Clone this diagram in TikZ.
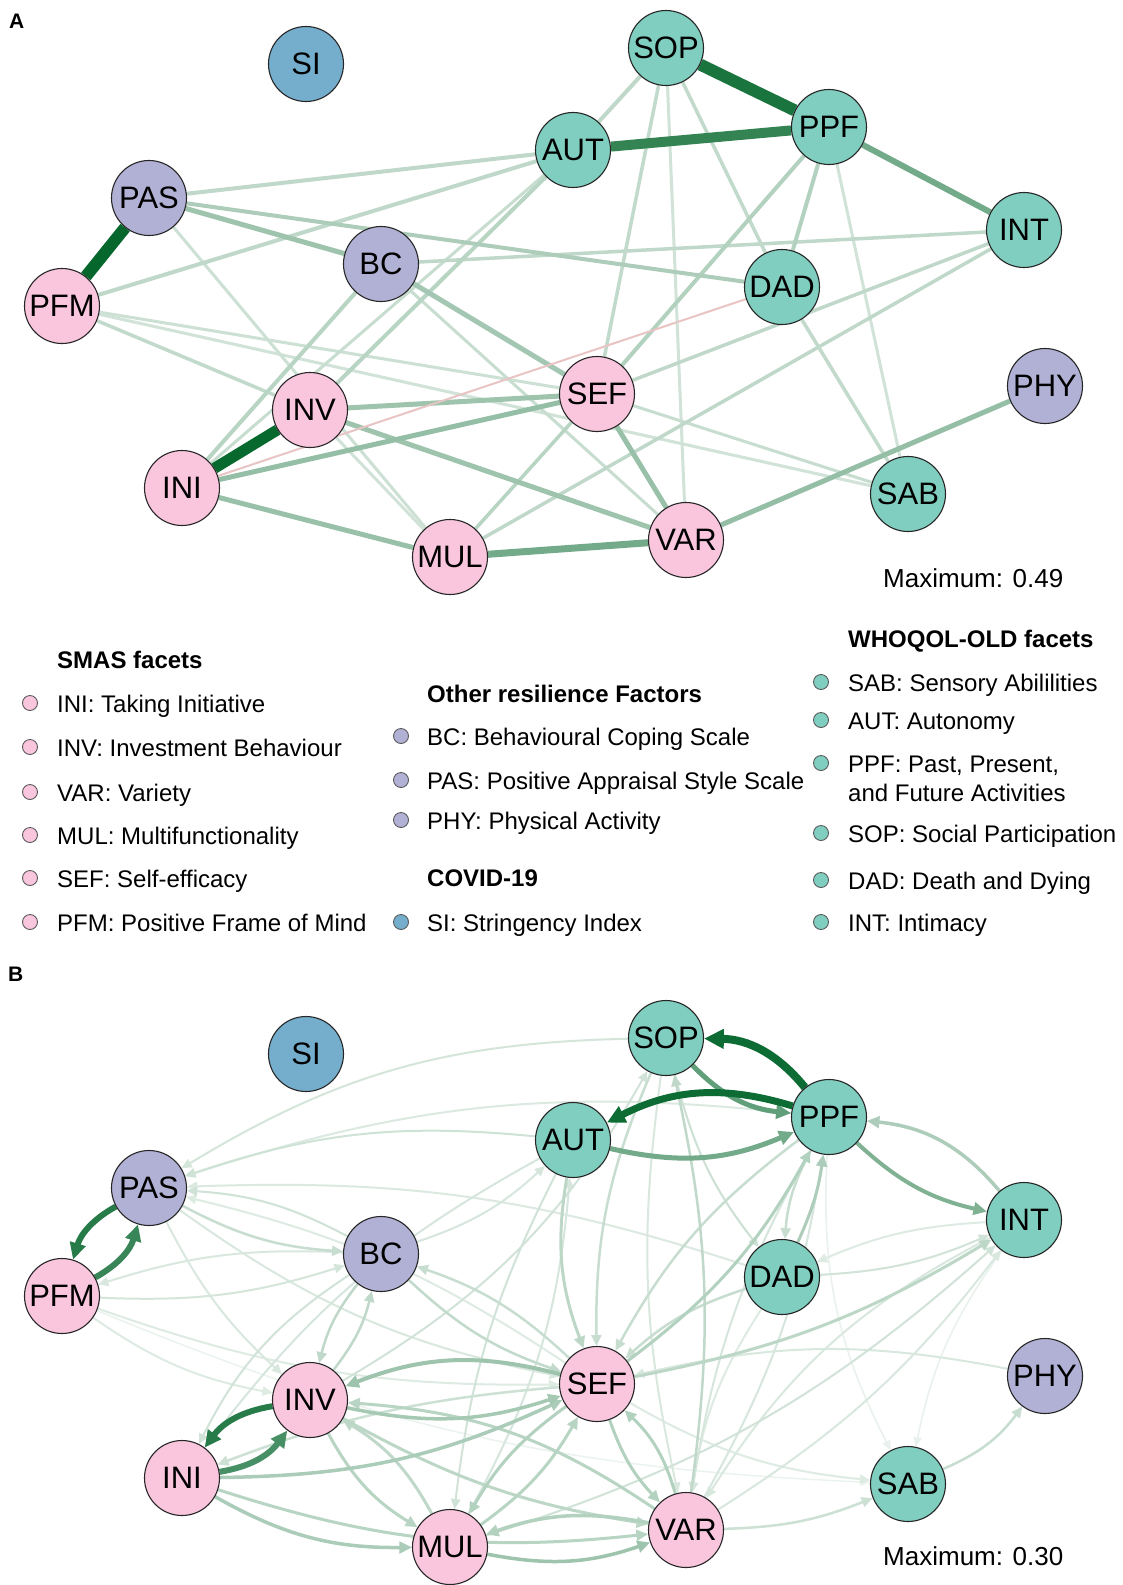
\documentclass[tikz,border=0pt]{standalone}
\usepackage{fontspec}
\setmainfont{Liberation Sans}
\usetikzlibrary{arrows.meta,backgrounds}
\definecolor{eg}{RGB}{0,100,40}
\definecolor{pinkF}{RGB}{249,198,222}
\definecolor{tealF}{RGB}{128,206,192}
\definecolor{lavF}{RGB}{177,177,214}
\definecolor{blueF}{RGB}{117,174,205}
\definecolor{negE}{RGB}{232,196,196}
\newcommand\mynodes[1]{%
\node[nd,fill=blueF] (SI#1) at (306,-64) {SI};
\node[nd,fill=tealF] (SOP#1) at (666,-48) {SOP};
\node[nd,fill=tealF] (PPF#1) at (829,-127) {PPF};
\node[nd,fill=tealF] (AUT#1) at (573,-150) {AUT};
\node[nd,fill=lavF] (PAS#1) at (149,-198) {PAS};
\node[nd,fill=tealF] (INT#1) at (1024,-230) {INT};
\node[nd,fill=lavF] (BC#1) at (381,-264) {BC};
\node[nd,fill=tealF] (DAD#1) at (782,-287) {DAD};
\node[nd,fill=pinkF] (PFM#1) at (62,-306) {PFM};
\node[nd,fill=lavF] (PHY#1) at (1045,-386) {PHY};
\node[nd,fill=pinkF] (SEF#1) at (597,-394) {SEF};
\node[nd,fill=pinkF] (INV#1) at (310,-410) {INV};
\node[nd,fill=pinkF] (INI#1) at (182,-488) {INI};
\node[nd,fill=tealF] (SAB#1) at (908,-494) {SAB};
\node[nd,fill=pinkF] (MUL#1) at (450,-557) {MUL};
\node[nd,fill=pinkF] (VAR#1) at (686,-540) {VAR};
}
\begin{document}
\begin{tikzpicture}[x=1pt,y=1pt,
 nd/.style={circle,draw=black!85,line width=1.1pt,minimum size=75pt,inner sep=0pt,font=\fontsize{31}{31}\selectfont},
 lg/.style={circle,draw=black!65,line width=0.9pt,minimum size=15pt,inner sep=0pt},
 lt/.style={anchor=base west,inner sep=0pt,font=\fontsize{24}{24}\selectfont},
 lh/.style={anchor=base west,inner sep=0pt,font=\fontsize{24}{24}\selectfont\bfseries},
 pl/.style={anchor=base west,inner sep=0pt,font=\fontsize{21}{21}\selectfont\bfseries},
 mx/.style={anchor=base west,inner sep=0pt,font=\fontsize{26}{26}\selectfont},
 arr/.style={-{Triangle[length=7pt 1.6,width=6pt 1.6]}},
]
\useasboundingbox (0,0) rectangle (1122,-1585);

% ---------- Panel A nodes ----------
\mynodes{}
% ---------- Panel B nodes ----------
\begin{scope}[yshift=-990pt]
\mynodes{b}
\end{scope}

% ---------- labels ----------
\node[pl] (lblA) at (9,-28) {A};
\node[pl] (lblB) at (8,-981) {B};
\node[mx] (maxA) at (883,-587) {Maximum: 0.49};
\node[mx] (maxB) at (883,-1565) {Maximum: 0.30};

% ---------- legend ----------
\node[lh] (hS) at (57,-668) {SMAS facets};
\node[lg,fill=pinkF] (c1) at (30,-703) {};
\node[lt] (t1) at (57,-712) {INI: Taking Initiative};
\node[lg,fill=pinkF] (c2) at (30,-747) {};
\node[lt] (t2) at (57,-756) {INV: Investment Behaviour};
\node[lg,fill=pinkF] (c3) at (30,-792) {};
\node[lt] (t3) at (57,-801) {VAR: Variety};
\node[lg,fill=pinkF] (c4) at (30,-835) {};
\node[lt] (t4) at (57,-844) {MUL: Multifunctionality};
\node[lg,fill=pinkF] (c5) at (30,-878) {};
\node[lt] (t5) at (57,-887) {SEF: Self-efficacy};
\node[lg,fill=pinkF] (c6) at (30,-922) {};
\node[lt] (t6) at (57,-931) {PFM: Positive Frame of Mind};

\node[lh] (hO) at (427,-702) {Other resilience Factors};
\node[lg,fill=lavF] (c7) at (401,-736) {};
\node[lt] (t7) at (427,-745) {BC: Behavioural Coping Scale};
\node[lg,fill=lavF] (c8) at (401,-780) {};
\node[lt] (t8) at (427,-789) {PAS: Positive Appraisal Style Scale};
\node[lg,fill=lavF] (c9) at (401,-820) {};
\node[lt] (t9) at (427,-829) {PHY: Physical Activity};
\node[lh] (hC) at (427,-886) {COVID-19};
\node[lg,fill=blueF] (c10) at (401,-922) {};
\node[lt] (t10) at (427,-931) {SI: Stringency Index};

\node[lh] (hW) at (848,-647) {WHOQOL-OLD facets};
\node[lg,fill=tealF] (c11) at (821,-682) {};
\node[lt] (t11) at (848,-691) {SAB: Sensory Abililities};
\node[lg,fill=tealF] (c12) at (821,-720) {};
\node[lt] (t12) at (848,-729) {AUT: Autonomy};
\node[lg,fill=tealF] (c13) at (821,-763) {};
\node[lt] (t13) at (848,-772) {PPF: Past, Present,};
\node[lt] (t13b) at (848,-801) {and Future Activities};
\node[lg,fill=tealF] (c14) at (821,-833) {};
\node[lt] (t14) at (848,-842) {SOP: Social Participation};
\node[lg,fill=tealF] (c15) at (821,-880) {};
\node[lt] (t15) at (848,-889) {DAD: Death and Dying};
\node[lg,fill=tealF] (c16) at (821,-922) {};
\node[lt] (t16) at (848,-931) {INT: Intimacy};

% ---------- edges ----------
\begin{scope}[on background layer]
\fill[white] (0,0) rectangle (1122,-1585);
% Panel A (undirected)
\foreach \ea/\eb/\ew/\es in {
 PFM/SAB/3/18, PFM/SEF/3/20, PFM/INV/3.5/24, PAS/MUL/3/20, INV/MUL/3/18,
 SOP/VAR/3/18, PPF/SAB/3/18, BC/VAR/3/22, AUT/INI/3/22, SEF/SAB/3/22,
 PAS/AUT/4/25, PFM/AUT/4/25, BC/INT/3.5/25, AUT/SOP/4/25, SOP/DAD/3.5/24,
 SOP/SEF/3.5/24, INT/SEF/3.5/25, INT/MUL/3.5/25, DAD/SAB/3.5/24,
 BC/INI/4/28, AUT/INV/4/28, SEF/MUL/3.5/28, PPF/SEF/4/30, PPF/DAD/4/30,
 PAS/DAD/4/32, BC/SEF/5/36, PAS/BC/5/38, INV/SEF/5/38, INV/VAR/5/38,
 SEF/VAR/5/40, INI/MUL/5/40, INI/SEF/5/42, PHY/VAR/5/42,
 MUL/VAR/7/55, PPF/INT/6/55, AUT/PPF/10/80, SOP/PPF/12/90,
 INI/INV/11/97, PAS/PFM/12/98}
 {\draw[line width=\ew pt,draw=eg!\es!white] (\ea) -- (\eb);}
\draw[line width=2pt,draw=negE] (DAD) -- (INI);
% Panel B (directed)
\foreach \ea/\eb/\ew/\es/\ebd in {
 PFM/SAB/1.5/8/10, INT/SAB/1.5/9/12, PPF/SAB/1.5/9/15, SEF/SAB/2/13/12,
 PFM/SEF/2/13/10, PFM/INV/2/13/12, DAD/VAR/2/13/12, INT/DAD/2/13/10,
 SEF/PAS/2/13/10, PPF/PAS/2/14/12, DAD/PAS/2/14/10, BC/PFM/2/15/10,
 SOP/VAR/2/15/10, INT/VAR/2/15/15, VAR/INT/2/15/10, PAS/INV/2/15/10,
 PAS/SEF/2/15/12, PHY/SEF/2/15/12, AUT/INI/2/16/12, BC/AUT/2/16/12,
 PPF/VAR/2/16/10, VAR/PPF/2/16/10, MUL/AUT/2/16/12, PFM/BC/2/17/10,
 SOP/PAS/2/17/15, BC/INI/2/18/15, INV/SOP/2/18/15, DAD/INT/2/18/10,
 MUL/INT/2/18/12, AUT/MUL/2/18/10, AUT/PAS/2/19/12, BC/PAS/2/19/12,
 SOP/DAD/2/20/12, VAR/SAB/2.5/20/10, SEF/INI/2.5/20/8, SAB/PHY/2.5/22/15,
 PAS/BC/2.5/22/12, SEF/BC/2.5/22/12, DAD/SEF/2.5/22/12, PPF/DAD/2.5/22/12,
 PPF/SEF/2.5/22/12, SOP/SEF/2.5/22/12, BC/SEF/2.5/24/12, INV/BC/2.5/25/12,
 BC/INV/2.5/25/12, VAR/SOP/2.5/25/10, MUL/INV/3/25/15, INV/VAR/3/26/10,
 AUT/SEF/3/26/15, SEF/INT/3/26/10, VAR/INV/3/28/15, MUL/SEF/3/28/12,
 INV/MUL/3/28/15, INI/VAR/3/28/12, SEF/MUL/3/30/12, SEF/VAR/3/30/12,
 VAR/SEF/3/30/15, SEF/PPF/3/30/12, VAR/MUL/3.5/30/15, DAD/PPF/3/32/8,
 INT/PPF/3.5/32/22, INI/SEF/3.5/33/12, INI/MUL/3.5/33/15, INV/SEF/3.5/35/15,
 SEF/INV/4/38/18, MUL/VAR/3.5/38/15, PPF/INT/4/50/15, AUT/PPF/5/55/18,
 SOP/PPF/5/62/20, INI/INV/6/72/22, PFM/PAS/6/78/22, INV/INI/6/85/22,
 PAS/PFM/6/85/22, PPF/AUT/7/95/22, PPF/SOP/8/95/25}
 {\draw[arr,line width=\ew pt,draw=eg!\es!white,bend right=\ebd] (\ea b) to (\eb b);}
\end{scope}
\end{tikzpicture}
\end{document}
